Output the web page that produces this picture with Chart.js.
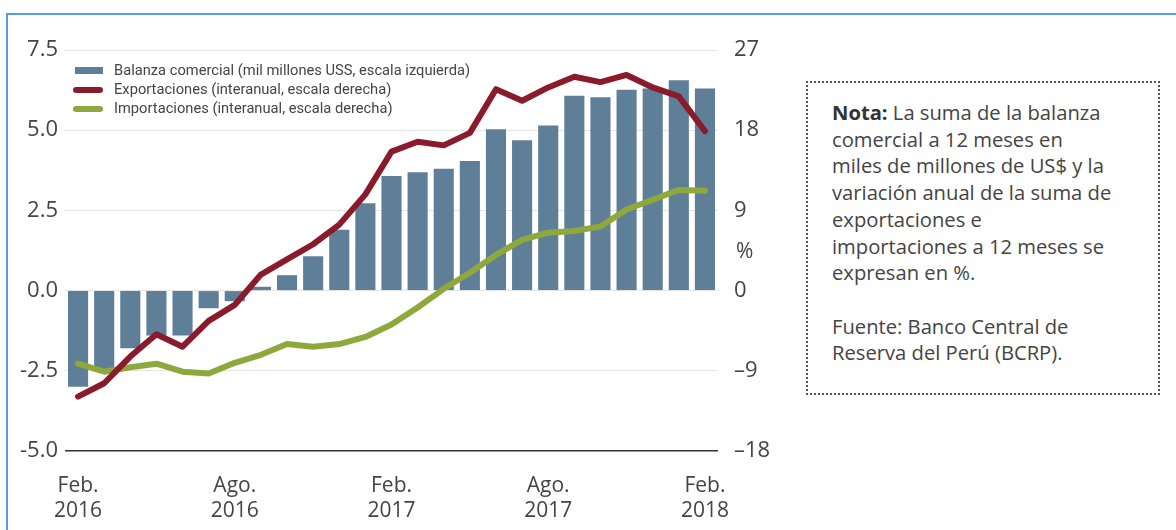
<!DOCTYPE html>
<html lang="es">
<head>
<meta charset="utf-8">
<script src="https://cdn.jsdelivr.net/npm/chart.js@4/dist/chart.umd.min.js"></script>
<style>
    html, body { margin: 0; padding: 0; background: #fff; overflow: hidden; }
    body { width: 1176px; height: 530px; position: relative; font-family: "Open Sans", sans-serif; color: #444; }
    .frame { position: absolute; left: 6px; top: 13px; width: 1300px; height: 700px; border-left: 2px solid #5b9be3; border-top: 2px solid #5b9be3; }
    .chart-box { position: absolute; left: 0; top: 0; width: 780px; height: 530px; }
    .legend { position: absolute; left: 73px; top: 61px; font-family: Roboto, sans-serif; font-size: 14.7px; line-height: 19px; color: #444; }
    .legend div { display: flex; align-items: center; white-space: nowrap; }
    .legend .sw { display: inline-block; width: 30px; margin-right: 11px; }
    .legend .bar { height: 7px; background: #5f7f99; margin-left: 2px; width: 28px; }
    .legend .ln { height: 6px; border-radius: 3px; }
    .pct { position: absolute; left: 736px; top: 236px; font-size: 21px; color: #444; }
    .note { position: absolute; left: 806px; top: 81px; width: 326px; height: 294px; padding: 16px 0 0 24px;
            border: 2px dotted #555; font-size: 20.2px; line-height: 26.7px; color: #444; white-space: nowrap; }
    .note b { font-weight: 700; color: #333; }
</style>
</head>
<body>
<div class="frame"></div>
<div class="chart-box"><canvas id="tradeChart"></canvas></div>

<div class="legend">
    <div><span class="sw bar"></span>Balanza comercial (mil millones USS, escala izquierda)</div>
    <div><span class="sw ln" style="background:#8a1b2d"></span>Exportaciones (interanual, escala derecha)</div>
    <div><span class="sw ln" style="background:#8fa83c"></span>Importaciones (interanual, escala derecha)</div>
</div>
<div class="pct">%</div>

<div class="note">
    <b>Nota:</b> La suma de la balanza<br>
    comercial a 12 meses en<br>
    miles de millones de US$ y la<br>
    variación anual de la suma de<br>
    exportaciones e<br>
    importaciones a 12 meses se<br>
    expresan en %.<br>
    <br>
    Fuente: Banco Central de<br>
    Reserva del Perú (BCRP).
</div>

<script>
// Months Feb 2016 - Feb 2018
const months = [
    'Feb. 2016', 'Mar. 2016', 'Abr. 2016', 'May. 2016', 'Jun. 2016', 'Jul. 2016',
    'Ago. 2016', 'Set. 2016', 'Oct. 2016', 'Nov. 2016', 'Dic. 2016', 'Ene. 2017',
    'Feb. 2017', 'Mar. 2017', 'Abr. 2017', 'May. 2017', 'Jun. 2017', 'Jul. 2017',
    'Ago. 2017', 'Set. 2017', 'Oct. 2017', 'Nov. 2017', 'Dic. 2017', 'Ene. 2018',
    'Feb. 2018'
];

// Trade balance, 12-month sum (billions US$, left axis)
const balanza = [
    -3.0, -2.45, -1.8, -1.4, -1.4, -0.55, -0.33, 0.12, 0.48, 1.07, 1.9, 2.72,
    3.57, 3.69, 3.8, 4.04, 5.03, 4.69, 5.15, 6.07, 6.03, 6.26, 6.3, 6.56, 6.3
];

// Year-on-year change, % (right axis)
const exportaciones = [
    -11.9, -10.4, -7.4, -4.9, -6.3, -3.4, -1.6, 1.8, 3.5, 5.2, 7.4, 10.8,
    15.6, 16.7, 16.3, 17.7, 22.6, 21.3, 22.8, 24.0, 23.4, 24.2, 22.8, 21.8, 17.9
];
const importaciones = [
    -8.2, -9.1, -8.6, -8.2, -9.1, -9.3, -8.1, -7.2, -6.0, -6.3, -6.0, -5.2,
    -3.8, -1.9, 0.2, 2.0, 4.0, 5.7, 6.5, 6.7, 7.2, 9.1, 10.2, 11.3, 11.2
];

const leftTicks = [-5, -2.5, 0, 2.5, 5, 7.5];
const rightTicks = [-18, -9, 0, 9, 18, 27];

const TEXT = '#444';
const tickFont = { family: 'Open Sans', size: 22 };

new Chart(document.getElementById('tradeChart'), {
    data: {
        labels: months,
        datasets: [
            {
                type: 'line',
                label: 'Exportaciones (interanual, escala derecha)',
                data: exportaciones,
                yAxisID: 'yRight',
                borderColor: '#8a1b2d',
                borderWidth: 6,
                borderCapStyle: 'round',
                borderJoinStyle: 'round',
                tension: 0,
                pointRadius: 0,
                order: 0
            },
            {
                type: 'line',
                label: 'Importaciones (interanual, escala derecha)',
                data: importaciones,
                yAxisID: 'yRight',
                borderColor: '#8fa83c',
                borderWidth: 6,
                borderCapStyle: 'round',
                borderJoinStyle: 'round',
                tension: 0,
                pointRadius: 0,
                order: 1
            },
            {
                type: 'bar',
                label: 'Balanza comercial (mil millones USS, escala izquierda)',
                data: balanza,
                yAxisID: 'yLeft',
                backgroundColor: '#5f7f99',
                barPercentage: 0.77,
                categoryPercentage: 1,
                order: 2
            }
        ]
    },
    options: {
        responsive: true,
        maintainAspectRatio: false,
        animation: false,
        layout: { padding: { top: 50, left: 0, right: 0, bottom: 0 } },
        plugins: {
            legend: { display: false },
            tooltip: { enabled: false }
        },
        scales: {
            x: {
                offset: true,
                grid: { display: false },
                border: { display: false },
                ticks: {
                    autoSkip: false,
                    maxRotation: 0,
                    padding: 14,
                    color: TEXT,
                    font: { family: 'Open Sans', size: 21, lineHeight: 1.2 },
                    callback: (v, i) => (i % 6 === 0 ? months[i].split(' ') : '')
                },
                afterFit: (s) => { s.height = 79; }
            },
            yLeft: {
                position: 'left',
                min: -5,
                max: 7.5,
                afterBuildTicks: (s) => { s.ticks = leftTicks.map(v => ({ value: v })); },
                grid: {
                    drawTicks: false,
                    color: (c) => (c.tick && c.tick.value === -5 ? '#333' : '#e4e4e4'),
                    lineWidth: (c) => (c.tick && c.tick.value === -5 ? 1.6 : 1)
                },
                border: { display: false },
                ticks: {
                    padding: 7,
                    color: TEXT,
                    font: tickFont,
                    callback: (v) => v.toFixed(1)
                },
                afterFit: (s) => { s.width = 65; }
            },
            yRight: {
                position: 'right',
                min: -18,
                max: 27,
                afterBuildTicks: (s) => { s.ticks = rightTicks.map(v => ({ value: v })); },
                grid: { display: false, drawTicks: false },
                border: { display: false },
                ticks: {
                    padding: 16,
                    color: TEXT,
                    font: tickFont,
                    callback: (v) => (v < 0 ? '\u2013' + Math.abs(v) : String(v))
                },
                afterFit: (s) => { s.width = 62; }
            }
        }
    }
});
</script>
</body>
</html>
